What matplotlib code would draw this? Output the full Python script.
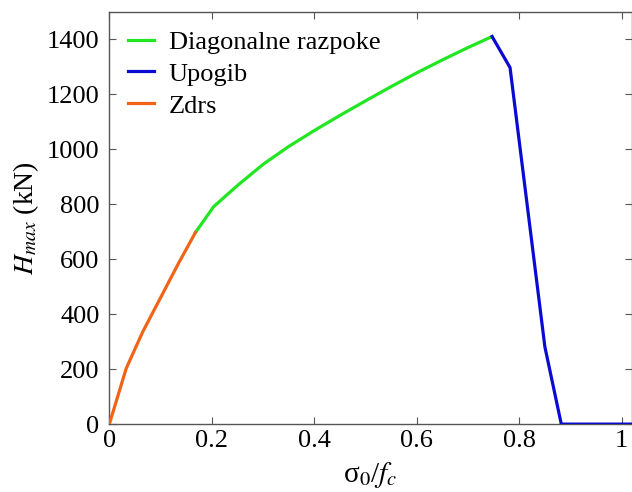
import numpy as np
from matplotlib import pyplot as plt

plt.rcParams['font.family'] = ['Liberation Serif', 'DejaVu Serif']
plt.rcParams['mathtext.fontset'] = 'stix'

# failure modes: sigma_0/f_c vs H_max (kN)
zdrs_x = [0.0, 0.033, 0.065, 0.10, 0.135, 0.168]
zdrs_y = [0, 203, 335, 460, 585, 697]

diag_x = [0.168, 0.2035, 0.25, 0.30, 0.35, 0.40, 0.45, 0.50, 0.55, 0.60, 0.65, 0.70, 0.747]
diag_y = [697, 791, 868, 945, 1010, 1068, 1123, 1176, 1228, 1278, 1325, 1370, 1410]

upog_x = [0.747, 0.782, 0.850, 0.882, 1.02]
upog_y = [1410, 1297, 281, 0, 0]

labels = ['Diagonalne razpoke', 'Upogib', 'Zdrs']
colors = ['#22e622', '#0a0ad2', '#f06418']

fig = plt.figure(figsize=(6.32, 4.92), dpi=100)
ax = fig.add_axes([0.173, 0.138, 0.827, 0.838])

ax.plot(diag_x, diag_y, color=colors[0], lw=2.3, label=labels[0], zorder=3)
ax.plot(upog_x, upog_y, color=colors[1], lw=2.3, label=labels[1], zorder=3)
ax.plot(zdrs_x, zdrs_y, color=colors[2], lw=2.3, label=labels[2], zorder=3)

ax.set_xlim(0, 1.02)
ax.set_ylim(0, 1500)
ax.set_xticks(np.arange(0, 1.01, 0.2))
ax.set_xticklabels(['0', '0.2', '0.4', '0.6', '0.8', '1'])
ax.set_yticks(np.arange(0, 1401, 200))

ax.tick_params(direction='in', top=True, right=True, length=5, width=0.8,
               color='#555555', labelsize=19, pad=4)
ax.tick_params(axis='y', pad=7)
for s in ax.spines.values():
    s.set_color('#555555')
    s.set_linewidth(1.0)

ax.set_ylabel('$H_{max}$ (kN)', fontsize=20, labelpad=4)
ax.set_xlabel('σ$_{0}$/$f_c$', fontsize=21, labelpad=6)

ax.legend(loc='upper left', frameon=False, fontsize=19, handlelength=1.0,
          handletextpad=0.55, labelspacing=0.32, borderaxespad=0.3,
          bbox_to_anchor=(0.0, 1.0))

fig.savefig('out.png', dpi=100)
